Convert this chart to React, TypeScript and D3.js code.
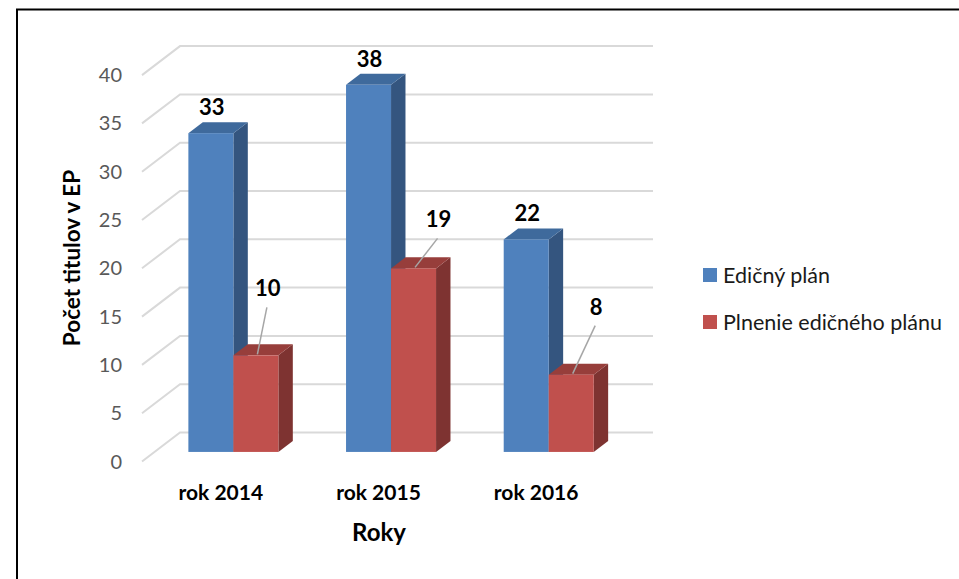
import React from 'react';
import { scaleLinear, scaleBand, range } from 'd3';

const categories = ['rok 2014', 'rok 2015', 'rok 2016'];
const seriesNames = ['Edičný plán', 'Plnenie edičného plánu'];
const planValues = [33, 38, 22];
const doneValues = [10, 19, 8];
const yTicks = range(0, 45, 5);

// manual nudges for the red data labels (as placed in the original)
const redLabelShift = [[12, -59], [25, -41], [25, -60]];

const W = 959;
const H = 579;
const backX0 = 180;
const backX1 = 653;
const backBase = 432.5;
const depthX = 38;
const depthY = 29;
const barFront = 0.67; // fraction of floor depth, measured from back wall
const barBack = 0.29;
const barW = 45;

const font = 'Lato, "Open Sans", sans-serif';

const faces = {
    blue: { front: '#4f81bd', side: '#34557f', top: '#3f6a9c' },
    red: { front: '#c0504d', side: '#7e3331', top: '#973e3b' },
};

const App = () => {
    const y = scaleLinear([0, 40], [0, 386.4]);
    const x = scaleBand(categories, [backX0, backX1]);
    const xs = scaleBand(['plan', 'done'], [-barW, barW]);

    const frontDx = -depthX * barFront;
    const frontDy = depthY * barFront;
    const bDx = depthX * (barFront - barBack);
    const bDy = depthY * (barFront - barBack);
    const base = backBase + frontDy;

    const bar = (cx, v, col, key) => {
        const x0 = cx;
        const x1 = cx + barW;
        const yt = base - y(v);
        const c = faces[col];
        return (
            <g key={key}>
                <polygon points={`${x1},${yt} ${x1 + bDx},${yt - bDy} ${x1 + bDx},${base - bDy} ${x1},${base}`} fill={c.side} />
                <polygon points={`${x0},${yt} ${x1},${yt} ${x1 + bDx},${yt - bDy} ${x0 + bDx},${yt - bDy}`} fill={c.top} />
                <rect x={x0} y={yt} width={barW} height={base - yt} fill={c.front} />
            </g>
        );
    };

    return (
        <svg width={W} height={H} style={{ position: 'absolute', left: 0, top: 0, background: '#fff' }}>
            <rect x={17} y={9.5} width={W} height={H} fill="none" stroke="#000" strokeWidth={2} />

            {/* gridlines: back wall + side wall diagonal */}
            <g stroke="#d9d9d9" strokeWidth={2} fill="none">
                {yTicks.map(t => (
                    <polyline key={t}
                        points={`${backX0 - depthX},${backBase - y(t) + depthY} ${backX0},${backBase - y(t)} ${backX1},${backBase - y(t)}`} />
                ))}
            </g>

            {/* tick labels */}
            <g fontFamily={font} fontSize={20} fill="#595959" textAnchor="end">
                {yTicks.map(t => (
                    <text key={t} x={122} y={backBase - y(t) + depthY} dy="0.35em">{t}</text>
                ))}
            </g>

            {/* bars */}
            {categories.map((c, i) => {
                const cx = x(c) + x.bandwidth() / 2 + frontDx;
                return (
                    <g key={c}>
                        {bar(cx + xs('plan'), planValues[i], 'blue', 'p')}
                        {bar(cx + xs('done'), doneValues[i], 'red', 'd')}
                    </g>
                );
            })}

            {/* data labels */}
            <g fontFamily={font} fontSize={22} fontWeight="bold" fill="#000" textAnchor="middle">
                {categories.map((c, i) => {
                    const cx = x(c) + x.bandwidth() / 2 + frontDx;
                    const pTop = base - y(planValues[i]);
                    const dTop = base - y(doneValues[i]);
                    const dcx = cx + xs('done') + barW / 2;
                    const [sx, sy] = redLabelShift[i];
                    return (
                        <g key={c}>
                            <text x={cx + xs('plan') + barW / 2 + 1} y={pTop - 18}>{planValues[i]}</text>
                            <text x={dcx + sx} y={dTop + sy}>{doneValues[i]}</text>
                            <line x1={dcx + sx - 1} y1={dTop + sy + 11} x2={dcx + 1.5} y2={dTop - 1} stroke="#a6a6a6" strokeWidth={1.5} />
                        </g>
                    );
                })}
            </g>

            {/* category labels */}
            <g fontFamily={font} fontSize={21} fontWeight="bold" fill="#000" textAnchor="middle">
                {categories.map(c => (
                    <text key={c} x={x(c) + x.bandwidth() / 2 - depthX} y={500}>{c}</text>
                ))}
            </g>

            <text x={379} y={541} fontFamily={font} fontSize={24} fontWeight="bold" textAnchor="middle">Roky</text>
            <text transform="translate(80,258) rotate(-90)" fontFamily={font} fontSize={22.5} fontWeight="bold" textAnchor="middle">Počet titulov v EP</text>

            {/* legend */}
            <g fontFamily={font} fontSize={21.5} fill="#1a1a1a">
                {seriesNames.map((s, i) => (
                    <g key={s} transform={`translate(703,${268 + i * 47})`}>
                        <rect width={14} height={14} fill={i === 0 ? faces.blue.front : faces.red.front} />
                        <text x={20} y={14.5}>{s}</text>
                    </g>
                ))}
            </g>
        </svg>
    );
};

export default App;
